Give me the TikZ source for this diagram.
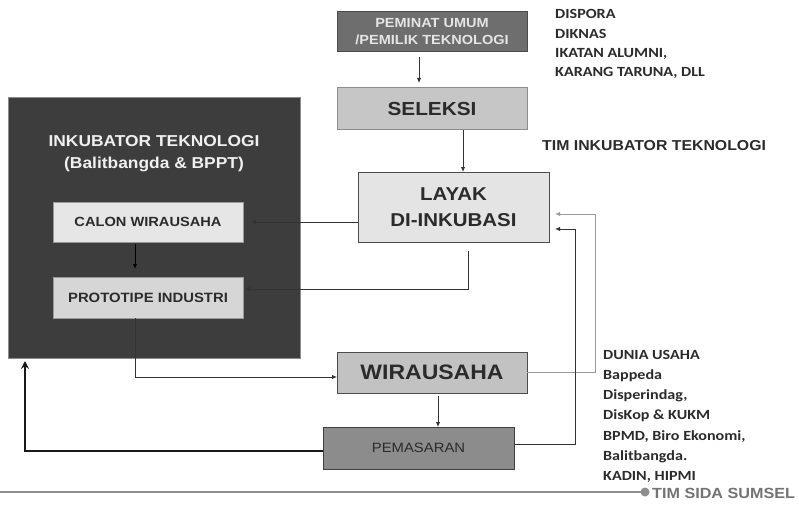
\documentclass[tikz,border=0pt]{standalone}
\usepackage{fontspec}
\setmainfont[FakeStretch=1.1]{Liberation Sans}
\newfontfamily\listfont[FakeStretch=1.15]{Carlito}
\usetikzlibrary{arrows.meta}

\definecolor{inkubfill}{HTML}{3D3D3D}
\definecolor{inkubline}{HTML}{8C8C8C}
\definecolor{peminatfill}{HTML}{6E6E6E}
\definecolor{seleksifill}{HTML}{C6C6C6}
\definecolor{layakfill}{HTML}{E4E4E4}
\definecolor{calonfill}{HTML}{E6E6E6}
\definecolor{protofill}{HTML}{D6D6D6}
\definecolor{wirafill}{HTML}{C2C2C2}
\definecolor{pemasfill}{HTML}{8C8C8C}
\definecolor{txtdark}{HTML}{2B2B2B}
\definecolor{linedark}{HTML}{333333}
\definecolor{linelight}{HTML}{9A9A9A}
\definecolor{rulegray}{HTML}{8E8E8E}

\newcommand{\fs}[2]{\fontsize{#1}{#2}\selectfont}

\begin{document}
\begin{tikzpicture}[x=1pt,y=-1pt,
  box/.style={draw, line width=1pt, inner sep=0pt, outer sep=0pt, align=center, text=txtdark},
  link/.style={line width=0.9pt, draw=linedark, -{Latex[length=5pt,width=4.5pt]}},
  lightlink/.style={line width=0.9pt, draw=linelight, -{Latex[length=5pt,width=4.5pt]}},
  heavylink/.style={line width=2.4pt, draw=black!90, -{Stealth[length=8pt,width=8pt,inset=3pt]}},
  listtext/.style={anchor=north west, inner sep=0pt, align=left, text=txtdark,
    font=\listfont\bfseries\fs{14}{20.2}}
]
\useasboundingbox (0,0) rectangle (799,505);
\fill[white] (0,0) rectangle (799,505);

% incubator block with its two inner stages
\node[box, draw=inkubline, fill=inkubfill, minimum width=292pt, minimum height=260pt] (inkub) at (154,228) {};
\node[text=white!94!black, align=center, inner sep=0pt, font=\bfseries\fs{15.8}{22}] (inkubtitle) at (154,154)
  {INKUBATOR TEKNOLOGI\\(Balitbangda \& BPPT)};
\node[box, draw=black!40, fill=calonfill, minimum width=190pt, minimum height=40pt,
  font=\bfseries\fs{13.3}{16}] (calon) at (148,222) {CALON WIRAUSAHA};
\node[box, draw=black!40, fill=protofill, minimum width=190pt, minimum height=41pt,
  font=\bfseries\fs{13.5}{16}] (proto) at (148,297.5) {PROTOTIPE INDUSTRI};

% main flow
\node[box, draw=black!70, fill=peminatfill, minimum width=190pt, minimum height=40pt,
  text=white!90!black, font=\bfseries\fs{13.2}{17}] (peminat) at (432,32) {PEMINAT UMUM\\/PEMILIK TEKNOLOGI};
\node[box, draw=black!45, fill=seleksifill, minimum width=190pt, minimum height=42pt,
  font=\bfseries\fs{18.9}{22}] (seleksi) at (432,109) {SELEKSI};
\node[box, draw=black!70, fill=layakfill, minimum width=191pt, minimum height=70pt,
  font=\bfseries\fs{18.6}{26}] (layak) at (453.5,207) {LAYAK\\DI-INKUBASI};
\node[box, draw=black!70, fill=wirafill, minimum width=190pt, minimum height=41pt,
  font=\bfseries\fs{20.9}{24}] (wira) at (432,372.5) {WIRAUSAHA};
\node[box, draw=black!75, fill=pemasfill, minimum width=191pt, minimum height=42pt,
  font=\fs{13.5}{16}] (pemas) at (418.5,448) {PEMASARAN};

% side notes
\node[listtext, font=\listfont\bfseries\fs{14}{19.3}] (dinas) at (555,9.5)
  {DISPORA\\DIKNAS\\IKATAN ALUMNI,\\KARANG TARUNA, DLL};
\node[anchor=west, inner sep=0pt, text=txtdark, font=\bfseries\fs{14.4}{17}] (timinkub) at (542,146)
  {TIM INKUBATOR TEKNOLOGI};
\node[listtext] (dunia) at (603,350)
  {DUNIA USAHA\\Bappeda\\Disperindag,\\DisKop \& KUKM\\BPMD, Biro Ekonomi,\\Balitbangda.\\KADIN, HIPMI};

% connectors
\draw[link] ([xshift=-13pt,yshift=-5pt]peminat.south) -- ([xshift=-13pt,yshift=5pt]seleksi.north);
\draw[link] ([xshift=31pt]seleksi.south) -- ([xshift=31pt]seleksi.south |- layak.north);
\draw[link] (layak.west |- calon.east) -- ([xshift=8pt]calon.east);
\draw[link] ([xshift=14.5pt,yshift=-9pt]layak.south) |- ([xshift=2pt,yshift=8.5pt]proto.east);
\draw[link, draw=black] ([xshift=-13pt,yshift=-2pt]calon.south) -- ([xshift=-13pt,yshift=8pt]proto.north);
\draw[link] ([xshift=-13pt]proto.south) |- ([yshift=-4.5pt]wira.west);
\draw[link] ([xshift=6pt,yshift=-3pt]wira.south) -- ([xshift=6pt]wira.south |- pemas.north);
\draw[lightlink] (wira.east) -| ([xshift=46pt,yshift=-7pt]layak.east) -- ([xshift=6pt,yshift=-7pt]layak.east);
\draw[link] ([yshift=4pt]pemas.east) -| ([xshift=26pt,yshift=-22pt]layak.east) -- ([xshift=6pt,yshift=-22pt]layak.east);
\draw[heavylink] ([yshift=-3pt]pemas.west) -| ([xshift=17pt,yshift=-3pt]inkub.south west);

% footer rule and credit
\coordinate (rulestart) at (0,492);
\coordinate (ruledot) at (645,492);
\draw[rulegray, line width=2pt] (rulestart) -- (ruledot);
\fill[rulegray] (ruledot) circle[radius=4.5pt];
\node[anchor=west, inner sep=0pt, text=black!55, font=\bfseries\fs{14.7}{17}] (credit) at (652,493) {TIM SIDA SUMSEL};
\end{tikzpicture}
\end{document}
